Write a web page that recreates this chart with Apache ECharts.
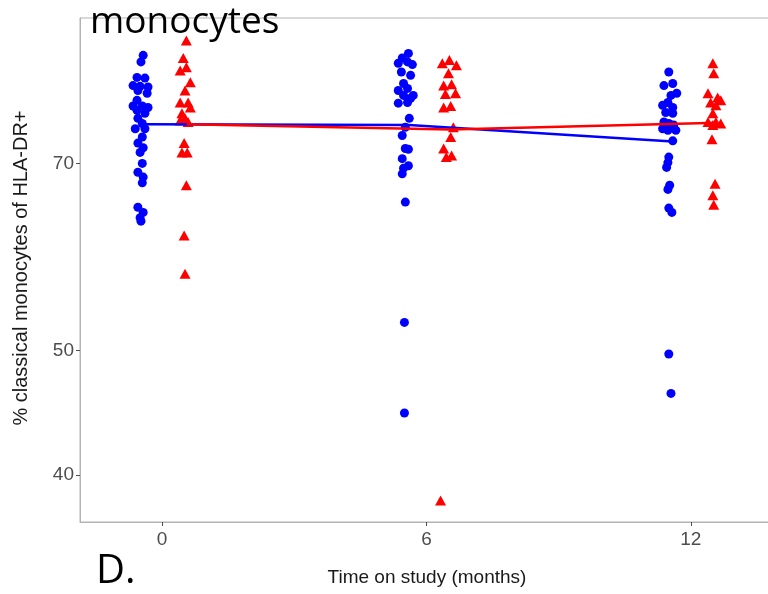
<!DOCTYPE html>
<html>
<head>
<meta charset="utf-8">
<script src="https://cdn.jsdelivr.net/npm/echarts@6/dist/echarts.min.js"></script>
<style>html,body{margin:0;padding:0;background:#fff}#c{width:768px;height:594px}</style>
</head>
<body>
<div id="c"></div>
<script>
// Tick labels
const xTicks = [0, 6, 12];
const yTicks = [40, 50, 70];

// Blue group (circles): jittered x (months) and values (%)
const blue0X = [-0.43,-0.48,-0.57,-0.39,-0.66,-0.50,-0.32,-0.55,-0.34,-0.57,-0.66,-0.45,-0.32,-0.57,-0.39,-0.55,-0.45,-0.61,-0.39,-0.45,-0.55,-0.43,-0.50,-0.45,-0.55,-0.43,-0.45,-0.55,-0.43,-0.50,-0.48];
const blue0Y = [85.0,84.0,81.7,81.6,80.5,80.4,80.3,79.8,79.4,78.4,77.6,77.6,77.4,77.0,76.6,75.9,75.2,74.5,74.5,73.4,72.6,72.0,71.4,70.0,68.9,68.3,67.6,64.7,64.1,63.5,63.1];
const blue6X = [5.59,5.45,5.36,5.57,5.68,5.43,5.64,5.48,5.36,5.57,5.70,5.48,5.36,5.57,5.64,5.61,5.52,5.45,5.52,5.59,5.45,5.59,5.48,5.45,5.52,5.50,5.50];
const blue6Y = [85.3,84.6,83.8,84.0,83.6,82.5,82.0,80.8,79.8,80.1,79.1,79.1,78.0,78.1,78.7,75.9,74.7,73.6,71.9,71.8,70.6,69.7,69.4,68.7,65.3,52.6,44.7];
const blue12X = [11.50,11.39,11.59,11.55,11.68,11.36,11.48,11.59,11.43,11.59,11.39,11.50,11.61,11.36,11.66,11.48,11.59,11.50,11.48,11.45,11.52,11.48,11.50,11.57,11.50,11.55];
const blue12Y = [82.5,80.5,80.8,79.1,79.4,77.7,78.1,77.4,76.7,76.6,75.4,75.2,75.0,74.5,74.3,74.3,72.9,70.8,70.1,69.5,67.3,66.8,64.6,64.1,49.7,46.3];

// Red group (triangles)
const red0X = [0.55,0.48,0.55,0.41,0.64,0.52,0.41,0.59,0.64,0.45,0.52,0.41,0.59,0.50,0.45,0.57,0.55,0.50,0.52];
const red0Y = [87.3,84.6,83.2,82.7,81.0,79.8,78.1,78.1,77.4,76.6,75.9,75.6,75.4,72.6,71.4,71.4,67.3,61.5,57.4];
const red6X = [6.52,6.36,6.68,6.50,6.57,6.39,6.66,6.43,6.39,6.55,6.61,6.55,6.39,6.57,6.45,6.32];
const red6Y = [84.3,83.8,83.5,82.3,80.7,80.5,79.4,79.3,77.4,77.6,74.7,73.4,71.9,71.0,70.8,38.2];
const red12X = [12.50,12.52,12.39,12.61,12.68,12.45,12.57,12.50,12.39,12.57,12.68,12.50,12.48,12.55,12.50,12.52];
const red12Y = [83.8,82.3,79.4,78.8,78.4,78.1,77.7,76.6,75.4,75.4,75.2,75.0,73.1,67.5,66.1,65.0];

// Summary lines
const blueLineX = [-0.39, 5.6, 11.59];
const blueLineY = [75.1, 75.0, 72.8];
const redLineX = [0.56, 6.55, 12.62];
const redLineY = [75.1, 74.4, 75.3];

const lg = v => Math.log10(v);
const pts = (xs, ys) => xs.map((x, i) => [x, lg(ys[i])]);

const chart = echarts.init(document.getElementById('c'), null, {renderer: 'canvas'});
const FONT = 'Liberation Sans, Arial, sans-serif';
chart.setOption({
  animation: false,
  backgroundColor: '#ffffff',
  grid: {left: 80, top: 18, right: -3, bottom: 72, show: true, borderColor: '#b3b3b3', borderWidth: 1, outerBoundsMode: 'none', containLabel: false},
  xAxis: {
    type: 'value', min: -1.864, max: 13.82,
    splitLine: {show: false},
    axisLine: {show: true, onZero: false, lineStyle: {color: '#b3b3b3', width: 1}},
    axisTick: {show: true, length: 4, lineStyle: {color: '#4d4d4d'}, customValues: xTicks},
    axisLabel: {customValues: xTicks, color: '#4d4d4d', fontSize: 19, fontFamily: FONT, margin: 8, formatter: v => String(Math.round(v))}
  },
  yAxis: {
    type: 'value', min: lg(36.75), max: lg(90.9),
    splitLine: {show: false},
    axisLine: {show: true, onZero: false, lineStyle: {color: '#b3b3b3', width: 1}},
    axisTick: {show: true, length: 4, lineStyle: {color: '#4d4d4d'}, customValues: yTicks.map(lg)},
    axisLabel: {customValues: yTicks.map(lg), color: '#4d4d4d', fontSize: 19, fontFamily: FONT, margin: 6, formatter: v => String(Math.round(Math.pow(10, v)))}
  },
  graphic: [
    {type: 'text', left: 90, top: 4, z: 100, style: {text: 'monocytes', font: '37px "Open Sans", sans-serif', fill: '#000'}},
    {type: 'text', left: 96, top: 552, z: 100, style: {text: 'D.', font: '40px "Open Sans", sans-serif', fill: '#000'}},
    {type: 'text', x: 427, y: 578, z: 100, style: {text: 'Time on study (months)', font: '19px ' + FONT, fill: '#1a1a1a', align: 'center', verticalAlign: 'middle'}},
    {type: 'text', x: 21, y: 268, rotation: Math.PI / 2, z: 100, style: {text: '% classical monocytes of HLA-DR+', font: '20px ' + FONT, fill: '#1a1a1a', align: 'center', verticalAlign: 'middle'}}
  ],
  series: [
    {type: 'scatter', symbol: 'circle', symbolSize: 9, itemStyle: {color: '#0000ff', opacity: 1},
     data: [].concat(pts(blue0X, blue0Y), pts(blue6X, blue6Y), pts(blue12X, blue12Y))},
    {type: 'scatter', symbol: 'triangle', symbolSize: [11, 10], itemStyle: {color: '#ff0000', opacity: 1},
     data: [].concat(pts(red0X, red0Y), pts(red6X, red6Y), pts(red12X, red12Y))},
    {type: 'line', symbol: 'none', lineStyle: {color: '#0000ff', width: 2.5}, z: 5, data: pts(blueLineX, blueLineY)},
    {type: 'line', symbol: 'none', lineStyle: {color: '#ff0000', width: 2.5}, z: 6, data: pts(redLineX, redLineY)}
  ]
});
</script>
</body>
</html>
